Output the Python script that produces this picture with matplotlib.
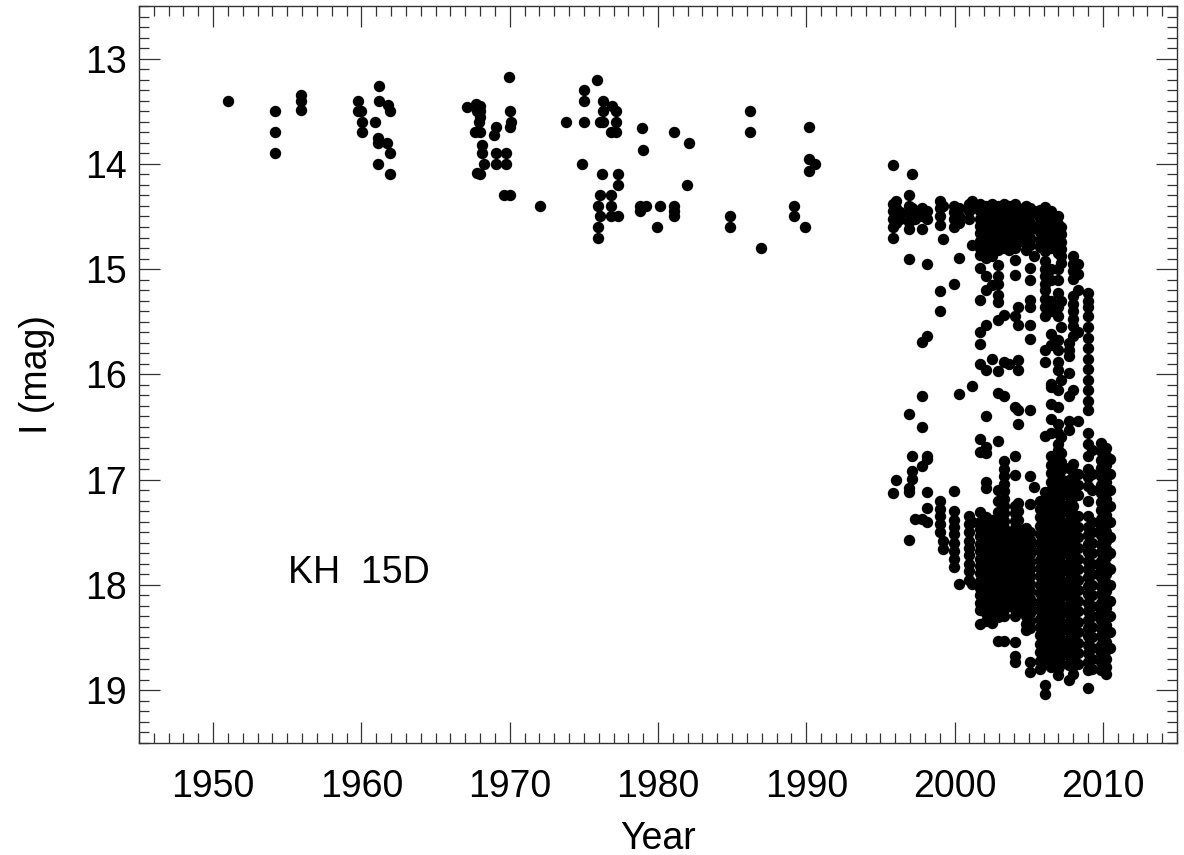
import matplotlib
matplotlib.use("Agg")
import matplotlib.pyplot as plt
from matplotlib.ticker import MultipleLocator

# ---------------- data ----------------
# Historical photographic plate photometry (1951-1990)
early_year = [1951.03,
              1954.18, 1954.18, 1954.18,
              1955.95, 1955.95, 1955.95,
              1959.8, 1959.8, 1960.0, 1960.07, 1960.07,
              1961.2, 1961.2, 1961.8, 1961.9, 1960.9, 1961.15, 1961.15, 1961.7, 1961.95, 1961.15, 1961.95,
              1967.1, 1967.75, 1968.0, 1967.8, 1968.0, 1968.0, 1967.96, 1967.67, 1968.0, 1969.1, 1968.95,
              1968.1, 1968.1, 1968.28, 1969.1, 1969.75, 1969.1, 1969.75, 1967.8, 1968.0,
              1969.98, 1970.03, 1970.1, 1970.0, 1969.6, 1970.03,
              1972.05, 1973.8,
              1975.0, 1975.0, 1975.0, 1974.9,
              1975.9, 1976.27, 1976.27, 1976.1, 1976.27, 1976.9, 1977.2, 1977.2, 1976.8, 1977.2,
              1978.9, 1978.97, 1981.05, 1982.1,
              1976.25, 1977.3, 1977.3, 1976.1, 1976.85, 1975.95, 1976.85, 1976.1, 1976.85, 1977.3,
              1975.95, 1975.95,
              1978.8, 1979.2, 1978.8, 1980.15, 1979.9, 1981.1, 1981.1, 1981.1, 1981.95,
              1986.2, 1986.2, 1984.85, 1984.85, 1986.97,
              1990.2, 1990.2, 1990.6, 1990.2, 1989.2, 1989.2, 1989.9]
early_mag = [13.40,
             13.50, 13.70, 13.90,
             13.35, 13.40, 13.49,
             13.40, 13.50, 13.50, 13.60, 13.70,
             13.26, 13.40, 13.44, 13.50, 13.60, 13.75, 13.80, 13.80, 13.90, 14.00, 14.10,
             13.46, 13.43, 13.45, 13.50, 13.50, 13.55, 13.60, 13.70, 13.70, 13.65, 13.73,
             13.82, 13.90, 14.00, 13.90, 13.90, 14.00, 14.00, 14.09, 14.10,
             13.17, 13.50, 13.60, 13.65, 14.30, 14.30,
             14.40, 13.60,
             13.30, 13.40, 13.60, 14.00,
             13.20, 13.40, 13.50, 13.60, 13.60, 13.45, 13.50, 13.60, 13.70, 13.70,
             13.66, 13.87, 13.70, 13.80,
             14.10, 14.10, 14.20, 14.30, 14.30, 14.40, 14.40, 14.50, 14.50, 14.50,
             14.60, 14.70,
             14.40, 14.40, 14.45, 14.40, 14.60, 14.40, 14.45, 14.50, 14.20,
             13.50, 13.70, 14.50, 14.60, 14.80,
             13.65, 13.95, 14.00, 14.07, 14.40, 14.50, 14.60]

# Modern CCD photometry, grouped by observing season: (year, magnitudes)
season_1996 = [(1995.85, [14.01, 14.38, 14.45, 14.52, 14.60, 14.70, 17.13]),
               (1996.05, [14.35, 14.42, 14.50, 14.56, 17.00]),
               (1996.35, [14.46, 14.52])]
season_1997 = [(1996.9, [14.30, 14.40, 14.47, 14.55, 14.62, 14.90, 16.38, 17.08, 17.12, 17.57]),
               (1997.1, [14.10, 14.42, 14.50, 16.78, 16.92, 16.99]),
               (1997.35, [14.45, 14.52, 17.37])]
season_1998 = [(1997.8, [14.42, 14.50, 14.62, 15.69, 16.21, 16.50, 16.87, 17.37]),
               (1998.15, [14.45, 14.52, 14.95, 15.64, 16.78, 16.80, 17.12, 17.27, 17.40])]
season_1999 = [(1999.05, [14.35, 14.42, 14.50, 14.58, 15.21, 15.40, 17.20, 17.28, 17.35, 17.42, 17.50]),
               (1999.2, [14.40, 14.71, 17.58, 17.66])]
season_2000 = [(1999.95, [14.40, 14.46, 14.52, 14.60, 15.14, 17.11, 17.30, 17.38, 17.45, 17.52, 17.60,
                          17.68, 17.75, 17.83]),
               (2000.3, [14.42, 14.50, 14.56, 14.89, 16.19, 17.99])]
season_2001 = [(2000.95, [14.38, 14.45, 14.52, 17.35, 17.42, 17.50, 17.58, 17.65, 17.72, 17.80, 17.87, 17.95]),
               (2001.15, [14.35, 14.42, 14.77, 16.11, 17.40, 17.99])]
season_2002 = [(2001.7, [14.38, 14.45, 14.52, 14.59, 14.66, 14.73, 14.80, 14.87, 14.99, 15.29, 15.60, 15.71,
                         15.90, 16.61, 16.74, 17.31, 17.40, 17.47, 17.54, 17.61, 17.68, 17.75, 17.82, 17.89,
                         17.96, 18.03, 18.10, 18.17, 18.24, 18.37]),
               (2002.1, [14.40, 14.47, 14.54, 14.61, 14.68, 14.75, 14.82, 14.89, 15.07, 15.20, 15.53, 15.96,
                         16.40, 16.69, 16.75, 17.02, 17.08, 17.36, 17.43, 17.50, 17.57, 17.64, 17.71, 17.78,
                         17.85, 17.92, 17.99, 18.06, 18.13, 18.20, 18.27, 18.34]),
               (2002.5, [14.38, 14.45, 14.52, 14.59, 14.66, 14.73, 14.80, 14.88, 15.15, 15.85, 17.38, 17.45,
                         17.52, 17.59, 17.66, 17.73, 17.80, 17.87, 17.94, 18.01, 18.08, 18.15, 18.22, 18.29,
                         18.36]),
               (2002.9, [14.40, 14.47, 14.54, 14.61, 14.68, 14.75, 14.82, 14.96, 15.07, 15.14, 15.25, 15.31,
                         15.48, 15.97, 16.18, 16.63, 17.10, 17.20, 17.31, 17.40, 17.47, 17.54, 17.61, 17.68,
                         17.75, 17.82, 17.89, 17.96, 18.03, 18.10, 18.17, 18.24, 18.31, 18.53])]
season_2004 = [(2003.3, [14.38, 14.45, 14.52, 14.59, 14.66, 14.73, 14.80, 15.44, 15.88, 16.21, 16.82, 16.90,
                         16.97, 17.04, 17.11, 17.18, 17.25, 17.32, 17.39, 17.46, 17.53, 17.60, 17.67, 17.74,
                         17.81, 17.88, 17.95, 18.02, 18.09, 18.16, 18.23, 18.30, 18.53]),
               (2003.7, [14.40, 14.47, 14.54, 14.61, 14.68, 14.75, 14.82, 15.90, 17.50, 17.60, 17.70, 17.80,
                         17.90, 18.00, 18.10, 18.20]),
               (2004.05, [14.38, 14.45, 14.52, 14.59, 14.66, 14.73, 14.80, 14.91, 15.06, 15.45, 16.31, 16.78,
                          16.96, 17.25, 17.32, 17.39, 17.46, 17.53, 17.60, 17.67, 17.74, 17.81, 17.88, 17.95,
                          18.02, 18.09, 18.16, 18.23, 18.30, 18.54, 18.68, 18.73]),
               (2004.3, [14.42, 14.50, 14.58, 14.66, 14.74, 15.36, 15.53, 15.86, 15.96, 16.34, 16.47, 17.22,
                         17.30, 17.38, 17.46, 17.54, 17.62, 17.70, 17.78, 17.86, 17.94, 18.02, 18.10, 18.18,
                         18.26])]
season_2005 = [(2004.8, [14.40, 14.47, 14.54, 14.61, 14.68, 14.75, 14.82, 17.46, 17.53, 17.60, 17.67, 17.74,
                         17.81, 17.88, 17.95, 18.02, 18.09, 18.16, 18.23, 18.30, 18.37, 18.43]),
               (2005.1, [14.42, 14.49, 14.56, 14.63, 14.70, 14.77, 14.99, 15.10, 15.29, 15.36, 15.53, 15.66,
                         16.34, 16.97, 17.23, 17.50, 17.57, 17.64, 17.71, 17.78, 17.85, 17.92, 17.99, 18.06,
                         18.13, 18.20, 18.27, 18.34, 18.41, 18.73, 18.83]),
               (2005.35, [14.45, 14.60, 14.88, 17.07])]
season_2006 = [(2005.75, [14.44, 14.51, 14.58, 14.65, 14.72, 14.79, 17.20, 17.28, 17.36, 17.44, 17.52, 17.60,
                          17.68, 17.76, 17.84, 17.92, 18.00, 18.08, 18.16, 18.24, 18.32, 18.40, 18.48, 18.56,
                          18.64, 18.72, 18.80]),
               (2006.1, [14.41, 14.48, 14.55, 14.62, 14.69, 14.76, 14.83, 14.92, 15.00, 15.07, 15.14, 15.20,
                         15.28, 15.36, 15.45, 15.77, 15.88, 16.59, 17.12, 17.22, 17.30, 17.38, 17.46, 17.54,
                         17.62, 17.70, 17.78, 17.86, 17.94, 18.02, 18.10, 18.18, 18.26, 18.34, 18.42, 18.50,
                         18.58, 18.66, 18.75, 18.95, 19.04]),
               (2006.5, [14.45, 14.52, 14.59, 14.66, 14.73, 14.80, 15.00, 15.10, 15.30, 15.40, 15.62, 15.72,
                         16.09, 16.12, 16.28, 16.42, 16.56, 16.78, 16.86, 16.94, 17.02, 17.10, 17.18, 17.26,
                         17.34, 17.42, 17.50, 17.58, 17.66, 17.74, 17.82, 17.90, 17.98, 18.06, 18.14, 18.22,
                         18.30, 18.38, 18.46, 18.54, 18.62, 18.70, 18.78]),
               (2006.95, [14.50, 14.57, 14.64, 14.71, 14.78, 14.85, 15.00, 15.10, 15.23, 15.36, 15.45, 15.67,
                          15.77, 15.88, 15.96, 16.15, 16.31, 16.47, 16.56, 16.66, 16.72, 16.80, 16.88, 16.96,
                          17.04, 17.12, 17.20, 17.28, 17.36, 17.44, 17.52, 17.60, 17.68, 17.76, 17.84, 17.92,
                          18.00, 18.08, 18.16, 18.24, 18.32, 18.40, 18.48, 18.56, 18.64, 18.72, 18.80, 18.86]),
               (2007.2, [14.60, 14.67, 14.74, 14.81, 14.88, 14.94, 15.30, 15.55, 16.05, 16.60, 16.75, 16.83,
                         16.91, 16.99, 17.07, 17.15, 17.23, 17.31, 17.39, 17.47, 17.55, 17.63, 17.71, 17.79,
                         17.87, 17.95, 18.03, 18.11, 18.19, 18.27, 18.35, 18.43, 18.51, 18.59, 18.67, 18.75])]
season_2008 = [(2007.75, [15.70, 15.77, 15.83, 15.99, 16.21, 16.44, 16.53, 16.89, 17.00, 17.08, 17.16, 17.24,
                          17.32, 17.40, 17.48, 17.56, 17.64, 17.72, 17.80, 17.88, 17.96, 18.04, 18.12, 18.20,
                          18.28, 18.36, 18.44, 18.52, 18.60, 18.68, 18.76, 18.90]),
               (2008.0, [14.88, 14.95, 15.02, 15.09, 15.26, 15.33, 15.40, 15.47, 15.54, 15.64, 16.15, 16.85,
                         16.93, 17.01, 17.09, 17.17, 17.25, 17.33, 17.41, 17.49, 17.57, 17.65, 17.73, 17.81,
                         17.89, 17.97, 18.05, 18.13, 18.21, 18.29, 18.37, 18.45, 18.53, 18.61, 18.69, 18.77,
                         18.85]),
               (2008.35, [14.95, 15.05, 15.20, 15.60, 16.44, 16.95, 17.05, 17.15, 17.35, 17.45, 17.55, 17.65,
                          17.75, 17.85, 17.95, 18.05, 18.15, 18.25, 18.35, 18.45, 18.55, 18.65, 18.75])]
season_2009 = [(2009.0, [15.23, 15.30, 15.36, 15.45, 15.55, 15.65, 15.75, 15.85, 15.95, 16.05, 16.15, 16.25,
                         16.34, 16.56, 16.66, 16.78, 16.90, 16.98, 17.06, 17.20, 17.35, 17.45, 17.53, 17.61,
                         17.69, 17.77, 17.85, 17.93, 18.01, 18.09, 18.17, 18.25, 18.33, 18.41, 18.49, 18.57,
                         18.65, 18.73, 18.81, 18.98]),
               (2009.3, [16.72, 16.95, 17.10, 17.40, 17.50, 17.60, 17.70, 17.80, 17.90, 18.00, 18.10, 18.20,
                         18.30, 18.40, 18.50, 18.60, 18.70, 18.80])]
season_2010 = [(2009.85, [16.65, 16.73, 16.81, 16.89, 16.97, 17.05, 17.13, 17.21, 17.29, 17.37, 17.45, 17.53,
                          17.61, 17.69, 17.77, 17.85, 17.93, 18.01, 18.09, 18.17, 18.25, 18.33, 18.41, 18.49,
                          18.57, 18.65, 18.73, 18.81]),
               (2010.2, [16.70, 16.78, 16.86, 16.94, 17.02, 17.10, 17.18, 17.26, 17.34, 17.42, 17.50, 17.58,
                         17.66, 17.74, 17.82, 17.90, 17.98, 18.06, 18.14, 18.22, 18.30, 18.38, 18.46, 18.54,
                         18.62, 18.70, 18.78, 18.85]),
               (2010.45, [16.80, 16.95, 17.10, 17.25, 17.40, 17.55, 17.70, 17.85, 18.00, 18.15, 18.30, 18.45,
                          18.60])]

modern_seasons = [season_1996, season_1997, season_1998, season_1999, season_2000, season_2001,
                  season_2002, season_2004, season_2005, season_2006, season_2008, season_2009, season_2010]

x_ticks = [1950, 1960, 1970, 1980, 1990, 2000, 2010]
y_ticks = [13, 14, 15, 16, 17, 18, 19]
star_name = "KH  15D"

# ---------------- plot ----------------
plt.rcParams['font.family'] = ['Liberation Sans', 'DejaVu Sans']
plt.rcParams['font.size'] = 27

fig = plt.figure(figsize=(11.84, 8.55), dpi=100)
ax = fig.add_axes([139 / 1184, 1 - 742.7 / 855, (1177 - 139) / 1184, (742.7 - 6) / 855])

mk = dict(ls='none', marker='o', ms=8.2, mfc='black', mec='none')
ax.plot(early_year, early_mag, **mk)
for season in modern_seasons:
    for yr, mags in season:
        ax.plot([yr] * len(mags), mags, **mk)

ax.set_xlim(1945, 2015)
ax.set_ylim(19.5, 12.5)
ax.set_xticks(x_ticks)
ax.set_yticks(y_ticks)
ax.xaxis.set_minor_locator(MultipleLocator(1))
ax.yaxis.set_minor_locator(MultipleLocator(0.1))
ax.tick_params(which='both', direction='in', top=True, right=True, width=0.9, color='#333333')
ax.tick_params(which='major', length=15)
ax.tick_params(which='minor', length=7)
ax.tick_params(axis='x', which='major', pad=19)
ax.tick_params(axis='y', which='major', pad=9)
for sp in ax.spines.values():
    sp.set_linewidth(1.0)
    sp.set_color('#333333')

ax.set_xlabel("Year")
ax.set_ylabel("I (mag)")
ax.xaxis.set_label_coords(0.5, -(839 - 742.7) / 736.7)
ax.xaxis.label.set_va('center')
ax.yaxis.set_label_coords(-(139 - 37) / 1038, 0.5)
ax.yaxis.label.set_va('center')

ax.text(1955.05, 17.89, star_name, ha='left', va='center')

fig.savefig("out.png", dpi=100)
